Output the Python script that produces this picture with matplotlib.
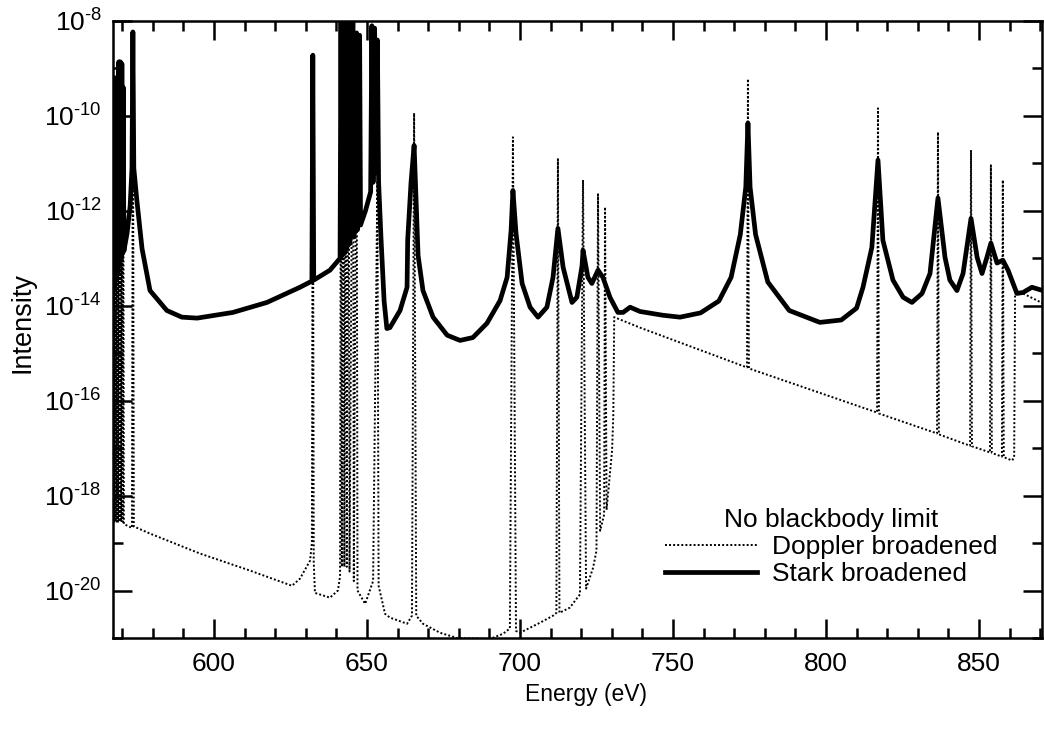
import numpy as np
import matplotlib
matplotlib.use("Agg")
import matplotlib.pyplot as plt

plt.rcParams['font.family'] = 'Liberation Sans'
plt.rcParams['mathtext.fontset'] = 'custom'
plt.rcParams['mathtext.rm'] = 'Liberation Sans'
plt.rcParams['mathtext.it'] = 'Liberation Sans:italic'

# ======================================================
# Data: energy (eV), log10(intensity)
# ======================================================
stark_left = np.array([
    [567.0, -13.7], [567.15, -9.2], [567.35, -13.6], [567.55, -9.2],
    [567.75, -13.5], [567.95, -9.2], [568.15, -13.4], [568.4, -9.2],
    [568.65, -13.3], [568.9, -8.86], [569.15, -13.15], [569.4, -8.86],
    [569.65, -13.0], [569.9, -8.9], [570.15, -12.9], [570.35, -9.4],
    [570.55, -12.85], [571.6, -12.47], [572.6, -11.9], [573.2, -11.1],
    [573.5, -8.23], [573.8, -11.1], [574.8, -11.78], [576.5, -12.8],
    [579.1, -13.68], [584.6, -14.10], [589.5, -14.24], [594.5, -14.26],
    [606.2, -14.14], [617.3, -13.93], [628.1, -13.61], [632.0, -13.48],
    [632.3, -8.72], [632.6, -13.46],
])
stark_cluster = np.array([
    [637.9, -13.25], [641.2, -13.0], [641.5, -7.9], [641.8, -12.95],
    [642.3, -7.9], [642.6, -12.9], [643.1, -7.9], [643.4, -12.8],
    [644.0, -7.9], [644.3, -12.7], [645.4, -7.95], [645.7, -12.55],
    [646.6, -8.25], [646.9, -12.4], [647.6, -8.3], [647.9, -12.3],
    [649.5, -12.0], [651.2, -11.6], [651.6, -8.1], [652.0, -11.4],
    [652.5, -8.15], [652.9, -11.2], [653.4, -8.4], [653.8, -11.4],
    [654.6, -12.6], [655.6, -13.9], [656.5, -14.48],
])
stark_mid = np.array([
    [657.5, -14.46], [660.8, -14.10], [663.1, -13.61], [663.3, -12.62],
    [664.4, -11.40], [665.4, -10.62], [666.7, -12.94], [668.3, -13.68],
    [671.6, -14.24], [676.2, -14.62], [680.4, -14.73], [684.6, -14.67],
    [689.2, -14.37], [693.5, -13.89], [695.8, -13.40], [697.1, -12.41],
    [697.7, -11.57], [698.7, -12.47], [700.7, -13.53], [703.3, -14.03],
    [705.9, -14.24], [708.8, -14.03], [710.8, -13.40], [712.4, -12.37],
    [714.1, -13.19], [717.0, -13.93], [718.6, -13.82], [720.3, -13.15],
    [720.6, -12.83], [722.2, -13.40], [723.5, -13.53], [725.5, -13.25],
    [727.1, -13.40], [729.4, -13.82], [732.0, -14.14], [733.7, -14.14],
    [736.0, -14.03], [739.2, -14.12], [746.7, -14.20], [752.3, -14.24],
])
stark_right = np.array([
    [759.0, -14.15], [765.0, -13.9], [769.0, -13.4], [772.0, -12.5],
    [773.8, -11.5], [774.5, -10.15], [775.2, -11.5], [777.0, -12.5],
    [781.0, -13.5], [788.0, -14.1], [798.0, -14.35], [805.0, -14.3],
    [810.0, -14.05], [812.1, -13.61], [815.0, -12.77], [817.0, -10.93],
    [818.6, -12.62], [821.9, -13.46], [825.2, -13.82], [828.1, -13.93],
    [831.4, -13.74], [834.0, -13.32], [836.6, -11.73], [838.9, -12.98],
    [840.5, -13.46], [842.8, -13.68], [844.8, -13.32], [847.4, -12.16],
    [849.4, -12.98], [851.0, -13.32], [852.6, -12.98], [853.9, -12.68],
    [855.9, -13.1], [857.8, -13.04], [859.5, -13.25], [862.4, -13.74],
    [864.4, -13.72], [867.3, -13.61], [870.9, -13.68],
])

doppler_left = np.array([
    [567.0, -18.55], [567.15, -9.2], [567.35, -18.55], [567.55, -9.2],
    [567.75, -18.55], [567.95, -9.2], [568.15, -18.55], [568.4, -9.2],
    [568.65, -18.55], [568.9, -8.86], [569.15, -18.55], [569.4, -8.86],
    [569.65, -18.55], [569.9, -8.9], [570.15, -18.55], [570.35, -9.4],
    [570.55, -18.6], [573.2, -18.68], [573.5, -8.23], [573.8, -18.65],
    [579.1, -18.80], [595.4, -19.22], [611.8, -19.58], [625.5, -19.90],
    [628.1, -19.75], [631.4, -19.37], [632.0, -19.0], [632.3, -8.72],
    [632.6, -19.4], [633.0, -20.05], [637.9, -20.15], [640.5, -20.0],
])
doppler_cluster = np.array([
    [641.2, -19.7], [641.5, -7.9], [641.8, -19.5], [642.3, -7.9],
    [642.6, -19.5], [643.1, -7.9], [643.4, -19.5], [644.0, -7.9],
    [644.3, -19.6], [645.4, -7.95], [645.7, -19.8], [646.6, -8.25],
    [646.9, -20.0], [649.4, -20.28], [652.0, -19.8], [653.4, -11.4],
    [653.8, -19.9], [655.9, -20.49],
])
doppler_mid = np.array([
    [657.5, -20.57], [663.1, -20.70], [664.7, -20.53], [665.4, -9.94],
    [666.1, -20.53], [668.3, -20.70], [673.9, -20.89], [679.4, -21.0],
    [690.2, -21.02], [694.5, -20.91], [696.7, -20.8], [697.7, -10.45],
    [698.7, -20.85], [700.0, -20.89], [706.5, -20.68], [710.8, -20.53],
    [711.9, -20.47], [712.4, -10.91], [712.9, -20.47], [716.3, -20.36],
    [719.6, -20.08], [720.6, -11.35], [721.6, -19.96], [723.9, -19.52],
    [725.0, -19.16], [725.5, -11.65], [726.2, -18.74], [727.5, -18.4],
    [727.8, -11.92], [728.3, -18.3], [730.1, -17.05], [730.5, -16.3],
    [730.8, -14.24],
])
doppler_right = np.array([
    [739.2, -14.46], [774.2, -15.3], [774.5, -9.22], [774.8, -15.32],
    [816.7, -16.25], [817.0, -9.84], [817.3, -16.27], [836.3, -16.69],
    [836.6, -10.34], [836.9, -16.71], [847.1, -16.95], [847.4, -10.72],
    [847.7, -16.96], [853.6, -17.09], [853.9, -11.04], [854.2, -17.1],
    [857.5, -17.18], [857.8, -11.35], [858.1, -17.19], [860.8, -17.26],
    [861.5, -17.2], [861.8, -13.74], [864.4, -13.74], [870.9, -13.95],
])

x_major = [600, 650, 700, 750, 800, 850]
x_minor = [570, 580, 590, 610, 620, 630, 640, 660, 670, 680, 690, 710, 720,
           730, 740, 760, 770, 780, 790, 810, 820, 830, 840, 860, 870]
y_major_exp = [-20, -18, -16, -14, -12, -10, -8]
y_minor_exp = [-21, -19, -17, -15, -13, -11, -9]

stark = np.vstack([stark_left, stark_cluster, stark_mid, stark_right])
doppler = np.vstack([doppler_left, doppler_cluster, doppler_mid, doppler_right])

# ======================================================
# Plot
# ======================================================
fig = plt.figure(figsize=(10.44, 7.37), dpi=100)
ax = fig.add_axes([113 / 1044, 1 - 638 / 737, 929 / 1044, 617 / 737])

ax.plot(doppler[:, 0], 10.0 ** doppler[:, 1], color='black', lw=1.4,
        ls=(0, (1, 1.1)), label='Doppler broadened', zorder=2)
ax.plot(stark[:, 0], 10.0 ** stark[:, 1], color='black', lw=3.4,
        label='Stark broadened', zorder=3)

ax.set_yscale('log')
ax.set_xlim(567, 870.6)
ax.set_ylim(1e-21, 1e-8)

ax.set_xticks(x_major)
ax.set_xticks(x_minor, minor=True)
ax.set_xticklabels([str(v) for v in x_major])
ax.set_yticks([10.0 ** e for e in y_major_exp])
# superscript uses a plain hyphen like the original
ax.set_yticklabels([r'$\mathregular{10^{' + '\u2010' + str(-e) + '}}$'
                    for e in y_major_exp])
ax.set_yticks([10.0 ** e for e in y_minor_exp], minor=True)
ax.set_yticklabels([], minor=True)

ax.tick_params(which='both', direction='in', top=True, right=True,
               width=1.8, labelsize=19, color='black')
ax.tick_params(which='major', length=14)
ax.tick_params(which='minor', length=7)
ax.tick_params(axis='x', which='major', pad=10)
ax.tick_params(axis='y', which='major', pad=8)
for s in ax.spines.values():
    s.set_linewidth(1.8)

ax.set_xlabel('Energy (eV)', fontsize=16.5)
ax.xaxis.set_label_coords((586 - 113) / 929, -(694 - 638) / 617)
ax.xaxis.label.set_va('center')
ax.set_ylabel('Intensity', fontsize=19.5)
ax.yaxis.set_label_coords(-(113 - 23) / 929, (638 - 323) / 617)
ax.yaxis.label.set_va('center')

leg = ax.legend(title='No blackbody limit', loc='lower right',
                bbox_to_anchor=((998 - 113) / 929, (638 - 586) / 617),
                frameon=False, fontsize=19, title_fontsize=19,
                handlelength=3.5, handletextpad=0.57, labelspacing=0.12,
                borderpad=0, borderaxespad=0)

plt.savefig("out.png", dpi=100)
plt.close()
